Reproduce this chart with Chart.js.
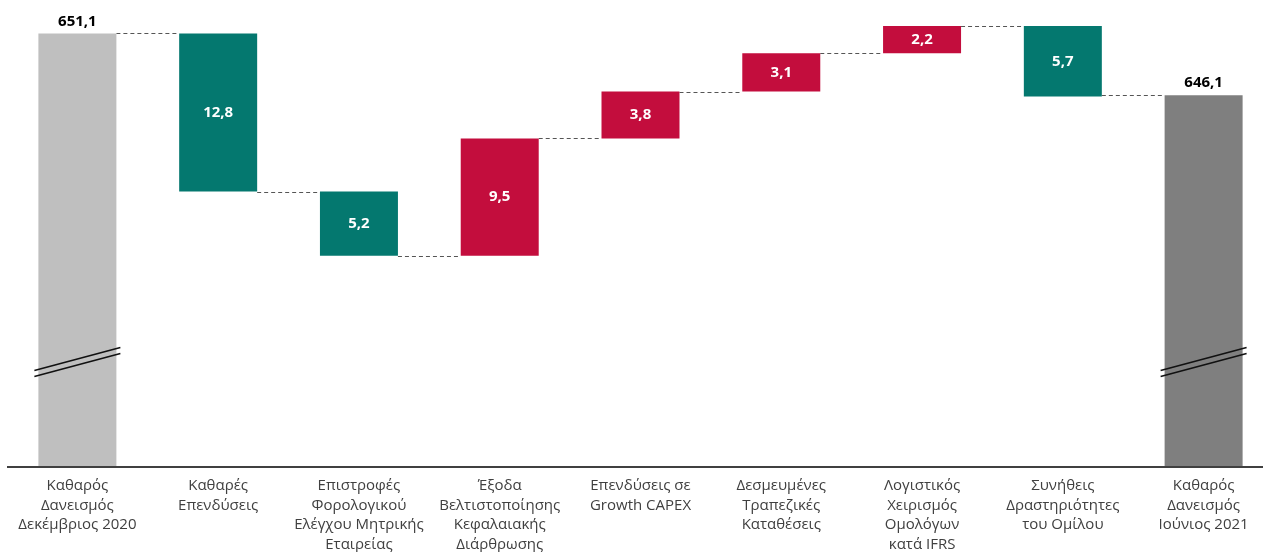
<!DOCTYPE html>
<html>
<head>
<meta charset="utf-8">
<script src="https://cdn.jsdelivr.net/npm/chart.js@4"></script>
<style>
  html, body { margin: 0; padding: 0; background: #fff; overflow: hidden; }
  #wrap { position: absolute; left: 0; top: 0; width: 1274px; height: 552px; }
</style>
</head>
<body>
<div id="wrap"><canvas id="c"></canvas></div>
<script>
// ---- Data ----
const categories = [
  ["Καθαρός", "Δανεισμός", "Δεκέμβριος 2020"],
  ["Καθαρές", "Επενδύσεις"],
  ["Επιστροφές", "Φορολογικού", "Ελέγχου Μητρικής", "Εταιρείας"],
  ["Έξοδα", "Βελτιστοποίησης", "Κεφαλαιακής", "Διάρθρωσης"],
  ["Επενδύσεις σε", "Growth CAPEX"],
  ["Δεσμευμένες", "Τραπεζικές", "Καταθέσεις"],
  ["Λογιστικός", "Χειρισμός", "Ομολόγων", "κατά IFRS"],
  ["Συνήθεις", "Δραστηριότητες", "του Ομίλου"],
  ["Καθαρός", "Δανεισμός", "Ιούνιος 2021"]
];
const startTotal = 651.1;
const endTotal = 646.1;
// signed changes for the 7 middle steps (negative = reduction)
const deltas = [-12.8, -5.2, 9.5, 3.8, 3.1, 2.2, -5.7];
const axisMin = 616;   // broken axis base
const axisMax = 653;

// ---- Build floating bars from the values ----
const ranges = [[axisMin, startTotal]];
const levels = [startTotal];
let run = startTotal;
deltas.forEach(d => {
  const next = +(run + d).toFixed(1);
  ranges.push([Math.min(run, next), Math.max(run, next)]);
  run = next;
  levels.push(run);
});
ranges.push([axisMin, endTotal]);

const GREEN = '#04786F', RED = '#C30D3D';
const colors = ['#BFBFBF'].concat(deltas.map(d => d < 0 ? GREEN : RED)).concat(['#7F7F7F']);
const labelsText = [startTotal].concat(deltas.map(d => Math.abs(d))).concat([endTotal])
  .map(v => v.toFixed(1).replace('.', ','));

const decor = {
  id: 'decor',
  beforeDatasetsDraw(chart) {
    const ctx = chart.ctx, meta = chart.getDatasetMeta(0), y = chart.scales.y;
    ctx.save();
    ctx.strokeStyle = '#555';
    ctx.lineWidth = 1;
    ctx.setLineDash([4, 3]);
    for (let i = 0; i < meta.data.length - 1; i++) {
      const a = meta.data[i], b = meta.data[i + 1];
      const lvl = i === levels.length - 1 ? endTotal : levels[i];
      const py = Math.round(y.getPixelForValue(lvl)) + 0.5;
      ctx.beginPath();
      ctx.moveTo(a.x + a.width / 2, py);
      ctx.lineTo(b.x - b.width / 2, py);
      ctx.stroke();
    }
    ctx.restore();
  },
  afterDatasetsDraw(chart) {
    const ctx = chart.ctx, meta = chart.getDatasetMeta(0), area = chart.chartArea;
    ctx.save();
    // axis line
    ctx.strokeStyle = '#404040';
    ctx.lineWidth = 2;
    ctx.beginPath();
    ctx.moveTo(area.left, area.bottom);
    ctx.lineTo(chart.width, area.bottom);
    ctx.stroke();
    // break marks on total bars
    [0, meta.data.length - 1].forEach(i => {
      const b = meta.data[i];
      const x0 = b.x - b.width / 2 - 4, x1 = b.x + b.width / 2 + 4;
      const yc = area.bottom - 105;
      ctx.strokeStyle = '#111';
      ctx.lineWidth = 1.6;
      [-3, 3].forEach(off => {
        ctx.beginPath();
        ctx.moveTo(x0, yc + 11.5 + off);
        ctx.lineTo(x1, yc - 11.5 + off);
        ctx.stroke();
      });
    });
    // value labels
    ctx.textAlign = 'center';
    ctx.textBaseline = 'middle';
    ctx.font = 'bold 15px "Open Sans"';
    meta.data.forEach((b, i) => {
      const top = Math.min(b.y, b.base), bot = Math.max(b.y, b.base);
      if (i === 0 || i === meta.data.length - 1) {
        ctx.fillStyle = '#000';
        ctx.fillText(labelsText[i], b.x, top - 12);
      } else {
        ctx.fillStyle = '#fff';
        ctx.fillText(labelsText[i], b.x, (top + bot) / 2);
      }
    });
    ctx.restore();
  }
};

new Chart(document.getElementById('c'), {
  type: 'bar',
  data: {
    labels: categories,
    datasets: [{
      data: ranges,
      backgroundColor: colors,
      borderWidth: 0,
      borderSkipped: false,
      barPercentage: 0.554,
      categoryPercentage: 1.0
    }]
  },
  options: {
    responsive: true,
    maintainAspectRatio: false,
    animation: false,
    layout: { padding: { left: 7, right: 0, top: 10, bottom: 0 } },
    plugins: { legend: { display: false }, tooltip: { enabled: false } },
    scales: {
      x: {
        grid: { display: false },
        border: { display: false },
        ticks: {
          autoSkip: false,
          maxRotation: 0,
          padding: 1,
          color: '#404040',
          font: { family: '"Open Sans"', size: 15, lineHeight: 1.3 }
        },
        afterFit: s => { s.height = 85; }
      },
      y: {
        display: false,
        min: axisMin,
        max: axisMax
      }
    }
  },
  plugins: [decor]
});
</script>
</body>
</html>
